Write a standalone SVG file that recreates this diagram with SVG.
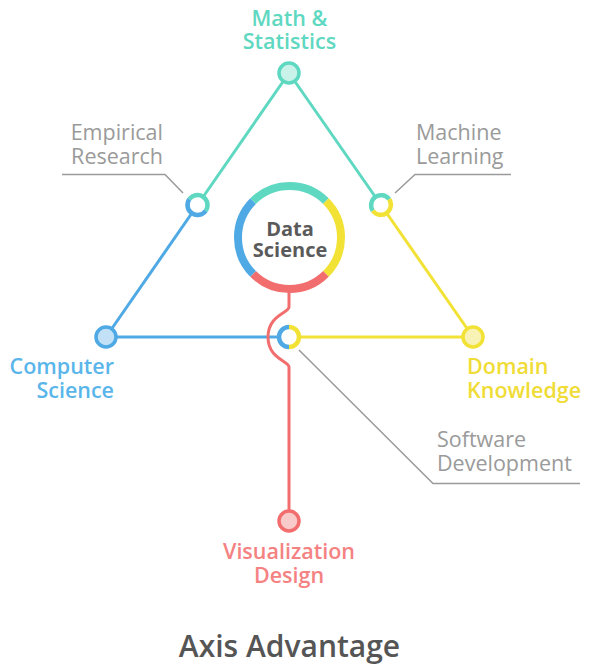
<svg xmlns="http://www.w3.org/2000/svg" width="597" height="668" viewBox="0 0 597 668">
<style>
text{font-family:"Open Sans","Noto Sans","Liberation Sans",sans-serif;font-size:21.5px}
.lab{font-weight:600}
.gray{fill:#9a9a9a;font-weight:400}
.teal{fill:#5fd8c1}
.blue{fill:#5ab6ea}
.yel{fill:#f0dc36}
.red{fill:#f58282}
.ds{font-size:20px;font-weight:700;fill:#5a5a5a}
.title{font-size:30px;font-weight:600;fill:#555}
.ln{fill:none;stroke-width:3}
.lead{fill:none;stroke:#9a9a9a;stroke-width:1.5}
.ring{fill:none;stroke-width:4.5}
.big{fill:none;stroke-width:8}
.node{stroke-width:3.5}
</style>
<g id="connectors">
<line class="ln" x1="289" y1="73" x2="197.5" y2="205" stroke="#5fd8c1"/>
<line class="ln" x1="197.5" y1="205" x2="106" y2="337" stroke="#4ea9e4"/>
<line class="ln" x1="289" y1="73" x2="381" y2="205" stroke="#5fd8c1"/>
<line class="ln" x1="381" y1="205" x2="473" y2="337" stroke="#f2e236"/>
<line class="ln" x1="106" y1="337" x2="289" y2="337" stroke="#4ea9e4"/>
<line class="ln" x1="289" y1="337" x2="473" y2="337" stroke="#f2e236"/>
<path class="ln" stroke="#f26e6e" d="M289,290 V307 C289,313 268,315 268,337 C268,359 289,361 289,367 V511"/>
<path class="lead" d="M62,174.5 H165 L183,193"/>
<path class="lead" d="M511,174.5 H415 L395,193"/>
<path class="lead" d="M299,350 L433,483.5 H580"/>
</g>
<g id="data-science">
<circle cx="289.5" cy="237.5" r="51.5" fill="#fff"/>
<path class="big" stroke="#5fd8c1" d="M253.08,201.08 A51.5,51.5 0 0 1 325.92,201.08"/>
<path class="big" stroke="#f2e236" d="M325.92,201.08 A51.5,51.5 0 0 1 325.92,273.92"/>
<path class="big" stroke="#f26e6e" d="M325.92,273.92 A51.5,51.5 0 0 1 253.08,273.92"/>
<path class="big" stroke="#4ea9e4" d="M253.08,273.92 A51.5,51.5 0 0 1 253.08,201.08"/>
<text class="ds" x="290" y="235.5" text-anchor="middle">Data</text>
<text class="ds" x="290" y="257" text-anchor="middle">Science</text>
</g>
<g id="math-statistics">
<circle class="node" cx="289" cy="73" r="10" fill="#c9f2e8" stroke="#5fd8c1"/>
<text class="lab teal" x="289.5" y="25.5" text-anchor="middle">Math &amp;</text>
<text class="lab teal" x="289.5" y="49" text-anchor="middle">Statistics</text>
</g>
<g id="computer-science">
<circle class="node" cx="106" cy="337" r="10" fill="#c2e0f6" stroke="#4ea9e4"/>
<text class="lab blue" x="114" y="373.5" text-anchor="end">Computer</text>
<text class="lab blue" x="114" y="398" text-anchor="end">Science</text>
</g>
<g id="domain-knowledge">
<circle class="node" cx="473" cy="337" r="10" fill="#f8f2b4" stroke="#f2e236"/>
<text class="lab yel" x="467" y="373.5">Domain</text>
<text class="lab yel" x="467" y="398">Knowledge</text>
</g>
<g id="visualization-design">
<circle class="node" cx="289" cy="521" r="10" fill="#f9caca" stroke="#f26e6e"/>
<text class="lab red" x="289" y="558.5" text-anchor="middle">Visualization</text>
<text class="lab red" x="289" y="583" text-anchor="middle">Design</text>
</g>
<g id="empirical-research">
<circle cx="197.5" cy="205" r="10" fill="#fff"/>
<path class="ring" stroke="#5fd8c1" d="M189.28,199.3 A10,10 0 0 1 205.72,210.7"/>
<path class="ring" stroke="#4ea9e4" d="M205.72,210.7 A10,10 0 0 1 189.28,199.3"/>
<text class="gray" x="163" y="140" text-anchor="end">Empirical</text>
<text class="gray" x="163" y="164" text-anchor="end">Research</text>
</g>
<g id="machine-learning">
<circle cx="381" cy="205" r="10" fill="#fff"/>
<path class="ring" stroke="#5fd8c1" d="M372.8,210.72 A10,10 0 0 1 389.2,199.28"/>
<path class="ring" stroke="#f2e236" d="M389.2,199.28 A10,10 0 0 1 372.8,210.72"/>
<text class="gray" x="416" y="140">Machine</text>
<text class="gray" x="416" y="164">Learning</text>
</g>
<g id="software-development">
<circle cx="289" cy="337" r="10" fill="#fff"/>
<path class="ring" stroke="#4ea9e4" d="M289,327 A10,10 0 0 0 289,347"/>
<path class="ring" stroke="#f2e236" d="M289,327 A10,10 0 0 1 289,347"/>
<text class="gray" x="437" y="447">Software</text>
<text class="gray" x="437" y="471">Development</text>
</g>
<g id="title">
<text class="title" x="289.5" y="657" text-anchor="middle">Axis Advantage</text>
</g>
</svg>
